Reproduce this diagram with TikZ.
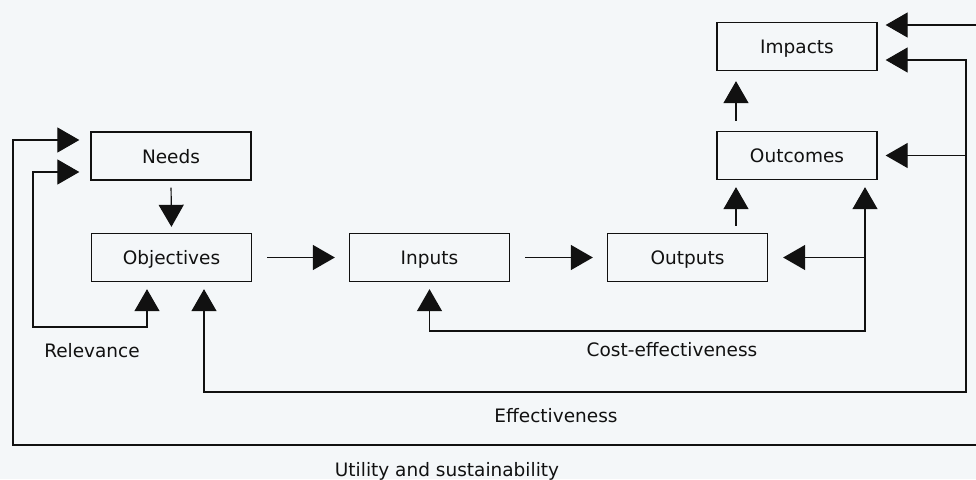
\documentclass[tikz,border=0pt]{standalone}
\usepackage{fontspec}
\setmainfont{DejaVu Sans}
\usetikzlibrary{arrows.meta}
\definecolor{bgc}{HTML}{F4F7F9}
\definecolor{ink}{HTML}{111111}
\begin{document}
\begin{tikzpicture}[x=1pt,y=-1pt,
  >={Triangle[width=25pt,length=22pt]},
  line width=1.2pt, draw=ink,
  box/.style={draw=ink, line width=1.3pt, minimum width=160pt, minimum height=48pt,
    inner sep=0pt, text height=14pt, text depth=0pt, font=\fontsize{18.5}{22}\selectfont, text=ink},
  lbl/.style={anchor=base, inner sep=0pt, font=\fontsize{18.5}{22}\selectfont, text=ink},
  conn/.style={draw=ink, line width=1.2pt}]
\fill[bgc] (0,0) rectangle (976,479);
\useasboundingbox (0,0) rectangle (976,479);

% boxes
\node[box] (needs)      at (171,156)   {Needs};
\node[box] (objectives) at (171.5,257.5) {Objectives};
\node[box] (inputs)     at (429.5,257.5) {Inputs};
\node[box] (outputs)    at (687.5,257.5) {Outputs};
\node[box] (outcomes)   at (797,155.5)  {Outcomes};
\node[box] (impacts)    at (797,46.5)   {Impacts};

% helper coordinates
\coordinate (upx) at (736,0);
\coordinate (relx) at (147,0);
\coordinate (r1) at (33,327);
\coordinate (r2) at (0,172);
\coordinate (u1) at (0,140);
\coordinate (ul) at (13,445);
\coordinate (ub) at (976,445);
\coordinate (ut) at (976,25);
\coordinate (ex) at (204,0);
\coordinate (er) at (966,392);
\coordinate (e1) at (0,60);
\coordinate (cr) at (865,331);

% main flow
\draw[conn,->,shorten <=7pt,shorten >=6pt] (needs.south) -- (objectives.north);
\draw[conn,->,shorten <=15pt,shorten >=14pt] (objectives.east) -- (inputs.west);
\draw[conn,->,shorten <=15pt,shorten >=14pt] (inputs.east) -- (outputs.west);
\draw[conn,->,shorten <=7pt,shorten >=7pt] (outputs.north -| upx) -- (outcomes.south -| upx);
\draw[conn,->,shorten <=10pt,shorten >=10pt] (outcomes.north -| upx) -- (impacts.south -| upx);

% relevance loop
\draw[conn,<->,shorten <=7pt,shorten >=11pt] (objectives.south -| relx) |- (r1) |- (needs.west |- r2);

% utility and sustainability loop
\draw[conn,->,shorten >=11pt] (ub) -- (ul) |- (needs.west |- u1);
\draw[conn,->,shorten >=8pt] (ut) -- (impacts.east |- ut);

% effectiveness loop
\draw[conn,<->,shorten <=7pt,shorten >=8pt] (objectives.south -| ex) |- (er) |- (impacts.east |- e1);
\draw[conn,->,shorten >=8pt] (er |- outcomes.east) -- (outcomes.east);

% cost-effectiveness loop
\draw[conn,<->,shorten <=7pt,shorten >=7pt] (inputs.south) |- (cr) -- (outcomes.south -| cr);
\draw[conn,->,shorten >=15pt] (cr |- outputs.east) -- (outputs.east);

% labels
\node[lbl] (relevance) at (92,357) {Relevance};
\node[lbl] (costeff)   at (672,356) {Cost-effectiveness};
\node[lbl] (effect)    at (556,422) {Effectiveness};
\node[lbl] (utility)   at (447,476) {Utility and sustainability};
\end{tikzpicture}
\end{document}
